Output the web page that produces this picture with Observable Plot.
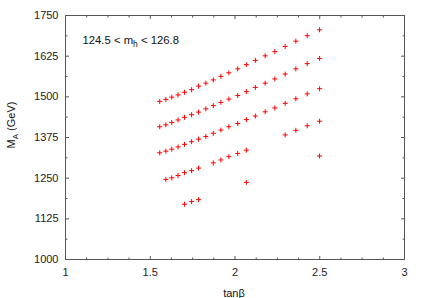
<!DOCTYPE html>
<html>
<head>
<meta charset="utf-8">
<script src="https://cdn.jsdelivr.net/npm/d3@7"></script>
<script src="https://cdn.jsdelivr.net/npm/@observablehq/plot@0.6"></script>
<style>
  html, body { margin: 0; padding: 0; background: #fff; }
  #chart { width: 425px; height: 298px; }
</style>
</head>
<body>
<div id="chart"></div>
<script>
// tanβ grid of the scan (columns)
const tanb = [1.556, 1.592, 1.627, 1.664, 1.702, 1.744, 1.785, 1.828, 1.872, 1.917,
              1.964, 2.016, 2.067, 2.120, 2.178, 2.235, 2.296, 2.359, 2.426, 2.499];
// M_A (GeV) per row of points, null = no point at that tanβ
const row1 = [1486, 1492, 1499, 1506, 1514, 1522, 1533, 1542, 1552, 1563,
              1574, 1586, 1599, 1612, 1626, 1639, 1655, 1671, 1688, 1706];
const row2 = [1408, 1414, 1421, 1429, 1437, 1445, 1453, 1463, 1473, 1483,
              1493, 1504, 1516, 1529, 1542, 1555, 1570, 1586, 1602, 1618];
const row3 = [1328, 1333, 1339, 1346, 1354, 1362, 1370, 1378, 1388, 1398,
              1408, 1418, 1430, 1441, 1454, 1466, 1480, 1494, 1509, 1525];
const row4 = [null, 1246, 1251, 1258, 1267, 1273, 1281, null, 1297, 1306,
              1316, 1326, 1336, null, null, null, 1383, 1397, 1411, 1425];
const row5 = [null, null, null, null, 1170, 1178, 1184, null, null, null,
              null, null, 1237, null, null, null, null, null, null, 1318];

const xTicks = [1, 1.5, 2, 2.5, 3];
const xMinor = [1.125, 1.25, 1.375, 1.625, 1.75, 1.875, 2.125, 2.25, 2.375, 2.625, 2.75, 2.875];
const yTicks = [1000, 1125, 1250, 1375, 1500, 1625, 1750];
const yMinor = [1062.5, 1187.5, 1312.5, 1437.5, 1562.5, 1687.5];

const points = [];
for (const row of [row1, row2, row3, row4, row5]) {
  row.forEach((v, i) => { if (v != null) points.push({tanb: tanb[i], MA: v}); });
}

// symbols
const plus = {draw(ctx) { const r = 2.5; ctx.moveTo(-r, 0); ctx.lineTo(r, 0); ctx.moveTo(0, -r); ctx.lineTo(0, r); }};
const vTick = (len, dir) => ({draw(ctx) { ctx.moveTo(0, 0); ctx.lineTo(0, dir * len); }});
const hTick = (len, dir) => ({draw(ctx) { ctx.moveTo(0, 0); ctx.lineTo(dir * len, 0); }});

const tickStyle = {fill: "none", stroke: "#555", strokeWidth: 1};

const svg = Plot.plot({
  width: 425,
  height: 298,
  marginLeft: 65,
  marginRight: 21,
  marginTop: 15,
  marginBottom: 39,
  style: {fontFamily: "'Liberation Sans', Arial, sans-serif", fontSize: "11px", color: "#222", background: "#fff"},
  x: {domain: [1, 3]},
  y: {domain: [1000, 1750]},
  marks: [
    Plot.axisX({ticks: xTicks, tickSize: 0, tickPadding: 9, label: null, tickFormat: d => String(d)}),
    Plot.axisY({ticks: yTicks, tickSize: 0, tickPadding: 7, label: null, tickFormat: d => String(d)}),
    // inward ticks on all four sides
    Plot.dot(xTicks, {x: d => d, frameAnchor: "bottom", symbol: vTick(3.5, -1), ...tickStyle}),
    Plot.dot(xMinor, {x: d => d, frameAnchor: "bottom", symbol: vTick(2, -1), ...tickStyle}),
    Plot.dot(xTicks, {x: d => d, frameAnchor: "top", symbol: vTick(3.5, 1), ...tickStyle}),
    Plot.dot(xMinor, {x: d => d, frameAnchor: "top", symbol: vTick(2, 1), ...tickStyle}),
    Plot.dot(yTicks, {y: d => d, frameAnchor: "left", symbol: hTick(3.5, 1), ...tickStyle}),
    Plot.dot(yMinor, {y: d => d, frameAnchor: "left", symbol: hTick(2, 1), ...tickStyle}),
    Plot.dot(yTicks, {y: d => d, frameAnchor: "right", symbol: hTick(3.5, -1), ...tickStyle}),
    Plot.dot(yMinor, {y: d => d, frameAnchor: "right", symbol: hTick(2, -1), ...tickStyle}),
    Plot.frame({stroke: "#555", strokeWidth: 1}),
    Plot.dot(points, {x: "tanb", y: "MA", symbol: plus, fill: "none", stroke: "#ff0000", strokeWidth: 1})
  ]
});

const s = d3.select(svg);
// annotation
const ann = s.append("text")
  .attr("x", 82.5).attr("y", 43.5)
  .attr("text-anchor", "start")
  .attr("fill", "#111").attr("font-size", "11.3px");
ann.append("tspan").text("124.5 < m");
ann.append("tspan").attr("dy", 3).attr("font-size", "8.5px").text("h");
ann.append("tspan").attr("dy", -3).text(" < 126.8");

// x label
s.append("text")
  .attr("x", 234).attr("y", 297)
  .attr("text-anchor", "middle").attr("fill", "#111")
  .text("tanβ");

// y label
const yl = s.append("text")
  .attr("transform", "translate(15,125) rotate(-90)")
  .attr("text-anchor", "middle").attr("fill", "#111");
yl.append("tspan").text("M");
yl.append("tspan").attr("dy", 3).attr("font-size", "8px").text("A");
yl.append("tspan").attr("dy", -3).text(" (GeV)");

document.getElementById("chart").appendChild(svg);
</script>
</body>
</html>
